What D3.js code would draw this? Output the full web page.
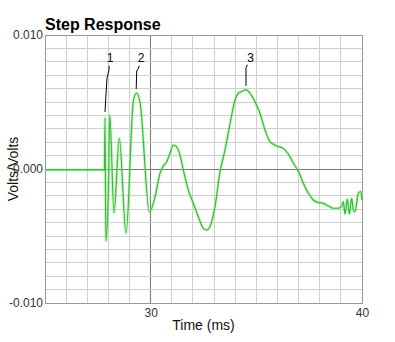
<!DOCTYPE html>
<html>
<head>
<meta charset="utf-8">
<script src="https://cdn.jsdelivr.net/npm/d3@7"></script>
<style>
  html, body { margin: 0; padding: 0; background: #fff; }
  svg { display: block; font-family: "Liberation Sans", Arial, Helvetica, sans-serif; }
</style>
</head>
<body>
<svg id="chart" width="395" height="342"></svg>
<script>
// Step response samples: time in ms, amplitude in volts/volts
const timeMs = [
  25.00, 27.81, 27.84, 27.88, 28.005, 28.066, 28.265, 28.516, 28.833,
  29.188, 29.339, 29.495, 29.945, 30.205, 30.442, 30.584, 30.759, 30.915,
  31.071, 31.232, 31.388, 31.544, 31.781, 32.017, 32.254, 32.491, 32.652,
  32.775, 33.044, 33.281, 33.518, 33.754, 33.991, 34.147, 34.308, 34.511,
  34.700, 34.937, 35.174, 35.410, 35.647, 35.964, 36.276, 36.513, 36.750,
  37.034, 37.223, 37.460, 37.696, 37.933, 38.169, 38.406, 38.642, 38.879,
  39.040, 39.116, 39.196, 39.305, 39.399, 39.513, 39.589, 39.669, 39.825,
  39.939, 40.00
];
const volts = [
  -0.00007, -0.00007, 0.00381, -0.00537, -0.00119, 0.00403, -0.00328, 0.00228, -0.00478,
  0.00515, 0.00567, 0.00500, -0.00321, -0.00209, -0.00032, 0.00019, 0.00054, 0.00117,
  0.00179, 0.00164, 0.00104, -0.00007, -0.00157, -0.00256, -0.00356, -0.00443, -0.00455,
  -0.00440, -0.00281, -0.00022, 0.00142, 0.00336, 0.00515, 0.00565, 0.00578, 0.00590,
  0.00565, 0.00502, 0.00416, 0.00291, 0.00204, 0.00172, 0.00154, 0.00112, 0.00045,
  -0.00032, -0.00107, -0.00181, -0.00231, -0.00251, -0.00256, -0.00276, -0.00293, -0.00293,
  -0.00281, -0.00244, -0.00336, -0.00224, -0.00336, -0.00219, -0.00306, -0.00319, -0.00181,
  -0.00169, -0.00231
];

// Axis ticks
const xTicks = [30, 40];
const yTicks = [0.010, 0.000, -0.010];
const yTickLabels = ["0.010", "0.000", "-0.010"];

// Numbered peak markers
const markerLabels = ["1", "2", "3"];
const markerTimes = [27.84, 29.339, 34.511];
const markerVolts = [0.00381, 0.00567, 0.00590];
const markerTextVolts = 0.0083;

const svg = d3.select("#chart");
const plot = { left: 45, top: 35, right: 362, bottom: 303 };

const x = d3.scaleLinear().domain([25, 40]).range([plot.left, plot.right]);
const y = d3.scaleLinear().domain([-0.010, 0.010]).range([plot.bottom, plot.top]);

// Minor grid: every 1 ms and every 0.001 V/V
const g = svg.append("g");
g.selectAll("line.vgrid")
  .data(d3.range(26, 40, 1))
  .join("line")
  .attr("x1", d => x(d)).attr("x2", d => x(d))
  .attr("y1", plot.top).attr("y2", plot.bottom)
  .attr("stroke", d => d === 30 ? "#777" : "#cfcfcf")
  .attr("stroke-width", 1)
  .attr("shape-rendering", "crispEdges");

g.selectAll("line.hgrid")
  .data(d3.range(-9, 10, 1).map(i => i * 0.001))
  .join("line")
  .attr("y1", d => y(d)).attr("y2", d => y(d))
  .attr("x1", plot.left).attr("x2", plot.right)
  .attr("stroke", d => Math.abs(d) < 1e-9 ? "#777" : "#cfcfcf")
  .attr("stroke-width", 1)
  .attr("shape-rendering", "crispEdges");

// Plot frame
svg.append("rect")
  .attr("x", plot.left).attr("y", plot.top)
  .attr("width", plot.right - plot.left).attr("height", plot.bottom - plot.top)
  .attr("fill", "none").attr("stroke", "#999").attr("stroke-width", 1)
  .attr("shape-rendering", "crispEdges");

// Axes (labels only; the frame draws the lines)
const xAxis = d3.axisBottom(x).tickValues(xTicks).tickSize(0).tickPadding(5).tickFormat(d3.format("d"));
const xg = svg.append("g").attr("transform", `translate(0,${plot.bottom})`).call(xAxis);
xg.select(".domain").remove();
xg.selectAll("text").attr("font-size", 12).attr("fill", "#333")
  .attr("font-family", "'Liberation Sans', Arial, sans-serif");

const yAxis = d3.axisLeft(y).tickValues(yTicks).tickSize(0).tickPadding(2)
  .tickFormat((d, i) => yTickLabels[i]);
const yg = svg.append("g").attr("transform", `translate(${plot.left},0)`).call(yAxis);
yg.select(".domain").remove();
yg.selectAll("text").attr("font-size", 12).attr("fill", "#333")
  .attr("font-family", "'Liberation Sans', Arial, sans-serif");

// Title and axis titles
svg.append("text")
  .attr("x", plot.left).attr("y", 30)
  .attr("font-size", 16).attr("font-weight", "bold").attr("fill", "#000")
  .text("Step Response");

svg.append("text")
  .attr("x", (plot.left + plot.right) / 2).attr("y", 330)
  .attr("text-anchor", "middle").attr("font-size", 14).attr("fill", "#111")
  .text("Time (ms)");

svg.append("text")
  .attr("transform", `translate(18,${y(0)}) rotate(-90)`)
  .attr("text-anchor", "middle").attr("font-size", 14).attr("fill", "#111")
  .text("Volts/Volts");

// Response trace
const pts = timeMs.map((t, i) => [t, volts[i]]);
const line = d3.line().x(d => x(d[0])).y(d => y(d[1])).curve(d3.curveMonotoneX);

svg.append("path")
  .attr("d", line(pts))
  .attr("fill", "none").attr("stroke", "#9be39b").attr("stroke-width", 3.2)
  .attr("stroke-opacity", 0.45).attr("stroke-linejoin", "round");
svg.append("path")
  .attr("d", line(pts))
  .attr("fill", "none").attr("stroke", "#2fbf2f").attr("stroke-width", 1.2)
  .attr("stroke-linejoin", "round");

// Peak markers with hand-drawn leaders
const marks = markerLabels.map((lab, i) => ({ lab, t: markerTimes[i], v: markerVolts[i] }));
const leader = d => {
  const px = x(d.t), py = y(d.v) - 4, ty = y(markerTextVolts) + 8;
  if (d.lab === "1") return `M${px},${py - 2} L${px + 1},${py - 20} L${px + 2},${py - 36} L${px + 4},${ty + 4} L${px + 4},${ty}`;
  if (d.lab === "2") return `M${px - 0.5},${py} L${px},${py - 18} L${px + 1.5},${ty + 3} L${px + 2.5},${ty}`;
  return `M${px},${py} L${px},${ty + 2} L${px + 1.5},${ty - 1}`;
};
svg.append("g").selectAll("path")
  .data(marks).join("path")
  .attr("d", leader)
  .attr("fill", "none").attr("stroke", "#000").attr("stroke-width", 1);

svg.append("g").selectAll("text")
  .data(marks).join("text")
  .attr("x", d => x(d.t) + (d.lab === "1" ? 5 : d.lab === "2" ? 4.5 : 4.5))
  .attr("y", y(markerTextVolts) + 4)
  .attr("text-anchor", "middle").attr("font-size", 12).attr("fill", "#000")
  .text(d => d.lab);
</script>
</body>
</html>
